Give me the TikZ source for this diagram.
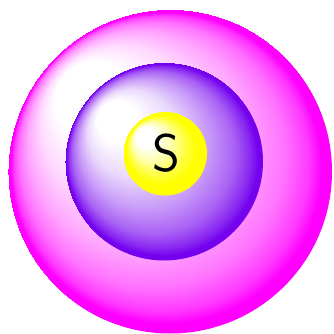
\documentclass[tikz,border=0pt]{standalone}
\definecolor{magB}{RGB}{255,0,255}
\definecolor{vioB}{RGB}{116,0,238}
\definecolor{yelB}{RGB}{255,255,0}
\pgfdeclareradialshading{magball}{\pgfpoint{-15.5bp}{14.5bp}}{%
  color(0bp)=(white); color(6bp)=(white); color(12bp)=(magB!15!white); color(17bp)=(magB!35!white);
  color(20.5bp)=(magB!55!white); color(22.8bp)=(magB!78!white); color(24bp)=(magB); color(25bp)=(magB)}
\pgfdeclareradialshading{vioball}{\pgfpoint{-15bp}{13bp}}{%
  color(0bp)=(white); color(5bp)=(white); color(11bp)=(vioB!15!white); color(16.5bp)=(vioB!40!white);
  color(20.5bp)=(vioB!62!white); color(23bp)=(vioB!85!white); color(24.2bp)=(vioB); color(25bp)=(vioB)}
\pgfdeclareradialshading{yelball}{\pgfpoint{-15bp}{13bp}}{%
  color(0bp)=(white); color(6bp)=(white); color(12bp)=(yelB!35!white); color(17bp)=(yelB!75!white);
  color(21bp)=(yelB); color(25bp)=(yelB)}
\begin{document}
\begin{tikzpicture}[x=1pt,y=-1pt,
  sphere/.style={circle,inner sep=0pt,outer sep=0pt,minimum size=#1}]
\useasboundingbox (0,0) rectangle (333,334);
\node[sphere=324pt,shading=magball] (outer) at (170,171.5) {};
\node[sphere=198pt,shading=vioball] (mid) at (164,161.5) {};
\node[sphere=84pt,shading=yelball] (core) at (165,153.5) {};
\node[inner sep=0pt] (lbl) at (166,153.5) {\fontsize{53}{53}\selectfont\sffamily S};
\end{tikzpicture}
\end{document}
